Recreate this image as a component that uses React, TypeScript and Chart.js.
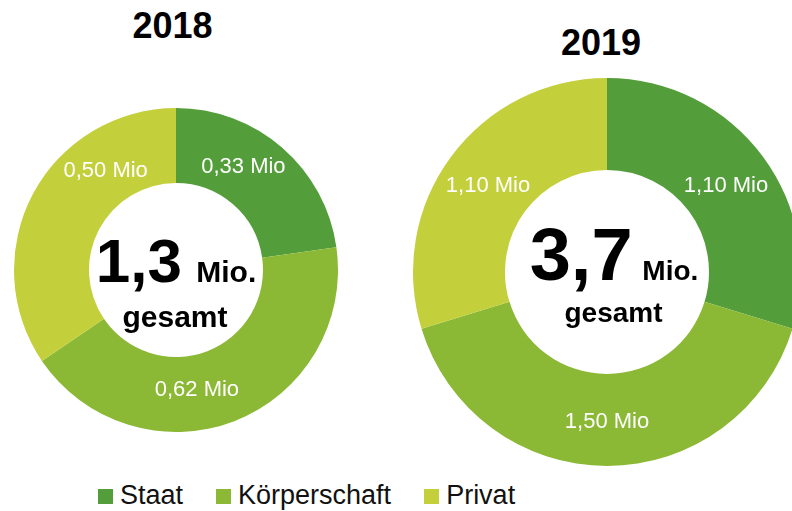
import React, { useEffect, useRef } from "react";
import { Chart, registerables } from "chart.js";

Chart.register(...registerables);

const categories = ["Staat", "Körperschaft", "Privat"];
const values2018 = [0.33, 0.62, 0.5];
const values2019 = [1.1, 1.5, 1.1];
const years = ["2018", "2019"];
const totals = ["1,3", "3,7"];
const colors = ["#539E3A", "#8CB935", "#C3D03C"];

const FONT = '"Liberation Sans", Arial, Helvetica, sans-serif';

const fmt = (v: number) => v.toFixed(2).replace(".", ",") + " Mio";

const labelPlugin = {
  id: "sliceLabels",
  afterDatasetsDraw(chart: any, _args: any, opts: any) {
    const ctx = chart.ctx;
    const meta = chart.getDatasetMeta(0);
    const data = chart.data.datasets[0].data as number[];
    ctx.save();
    ctx.font = `${opts.size}px ${FONT}`;
    ctx.fillStyle = "#ffffff";
    ctx.textAlign = "center";
    ctx.textBaseline = "alphabetic";
    meta.data.forEach((arc: any, i: number) => {
      const p = arc.getProps(["x", "y", "startAngle", "endAngle", "innerRadius", "outerRadius"], true);
      const f = opts.fractions[i];
      const a = p.startAngle + f * (p.endAngle - p.startAngle);
      const r = ((p.innerRadius + p.outerRadius) / 2) * (opts.radial ? opts.radial[i] : 1);
      const lx = p.x + Math.cos(a) * r;
      const ly = p.y + Math.sin(a) * r;
      ctx.fillText(fmt(data[i]), lx, ly + opts.size * 0.36);
    });
    ctx.restore();
  },
};

function Donut(props: {
  values: number[];
  left: number;
  top: number;
  size: number;
  cutout: number;
  fractions: number[];
  radial?: number[];
}) {
  const ref = useRef<HTMLCanvasElement>(null);
  useEffect(() => {
    const chart = new Chart(ref.current as HTMLCanvasElement, {
      type: "doughnut",
      data: {
        labels: categories,
        datasets: [
          {
            data: props.values,
            backgroundColor: colors,
            borderWidth: 0,
            hoverOffset: 0,
            offset: 0,
          } as any,
        ],
      },
      options: {
        responsive: false,
        maintainAspectRatio: false,
        animation: false,
        cutout: props.cutout,
        events: [],
        layout: { padding: 0 },
        plugins: {
          legend: { display: false },
          tooltip: { enabled: false },
          sliceLabels: { fractions: props.fractions, radial: props.radial, size: 22 },
        } as any,
      },
      plugins: [labelPlugin as any],
    });
    return () => chart.destroy();
  }, []);
  return (
    <canvas
      ref={ref}
      width={props.size}
      height={props.size}
      style={{ position: "absolute", left: props.left, top: props.top, width: props.size, height: props.size }}
    />
  );
}

function Txt(props: { x: number; baseline: number; size: number; bold?: boolean; children: any }) {
  return (
    <div
      style={{
        position: "absolute",
        left: props.x,
        top: props.baseline - 0.8465 * props.size,
        transform: "translateX(-50%)",
        fontSize: props.size,
        lineHeight: 1,
        fontWeight: props.bold === false ? "normal" : "bold",
        whiteSpace: "nowrap",
        fontFamily: FONT,
        color: "#000",
      }}
    >
      {props.children}
    </div>
  );
}

export default function App() {
  return (
    <div
      style={{
        position: "absolute",
        left: 0,
        top: 0,
        width: 792,
        height: 511,
        overflow: "hidden",
        background: "#ffffff",
        fontFamily: FONT,
      }}
    >
      <Donut values={values2018} left={14} top={108} size={324} cutout={87} fractions={[0.4, 0.572, 0.718]} radial={[1, 0.965, 0.985]} />
      <Donut values={values2019} left={413} top={78} size={388} cutout={102} fractions={[0.5, 0.5, 0.5]} />

      <Txt x={172.5} baseline={38} size={36}>{years[0]}</Txt>
      <Txt x={601} baseline={55} size={36}>{years[1]}</Txt>

      <Txt x={176} baseline={282} size={62}>
        {totals[0]}
        <span style={{ fontSize: 30, marginLeft: 6 }}> Mio.</span>
      </Txt>
      <Txt x={175} baseline={327} size={30}>gesamt</Txt>

      <Txt x={614} baseline={281} size={74}>
        {totals[1]}
        <span style={{ fontSize: 28, marginLeft: 2 }}> Mio.</span>
      </Txt>
      <Txt x={613.5} baseline={322.5} size={28}>gesamt</Txt>

      <div
        style={{
          position: "absolute",
          left: 98,
          top: 505 - 0.8465 * 27,
          display: "flex",
          alignItems: "baseline",
          fontSize: 27,
          lineHeight: 1,
          fontFamily: FONT,
          color: "#111",
          whiteSpace: "nowrap",
        }}
      >
        {categories.map((c, i) => (
          <div key={c} style={{ display: "flex", alignItems: "center", marginRight: 33 }}>
            <span style={{ display: "inline-block", width: 15, height: 15, background: colors[i], marginRight: 7, marginTop: 1 }} />
            <span>{c}</span>
          </div>
        ))}
      </div>
    </div>
  );
}
